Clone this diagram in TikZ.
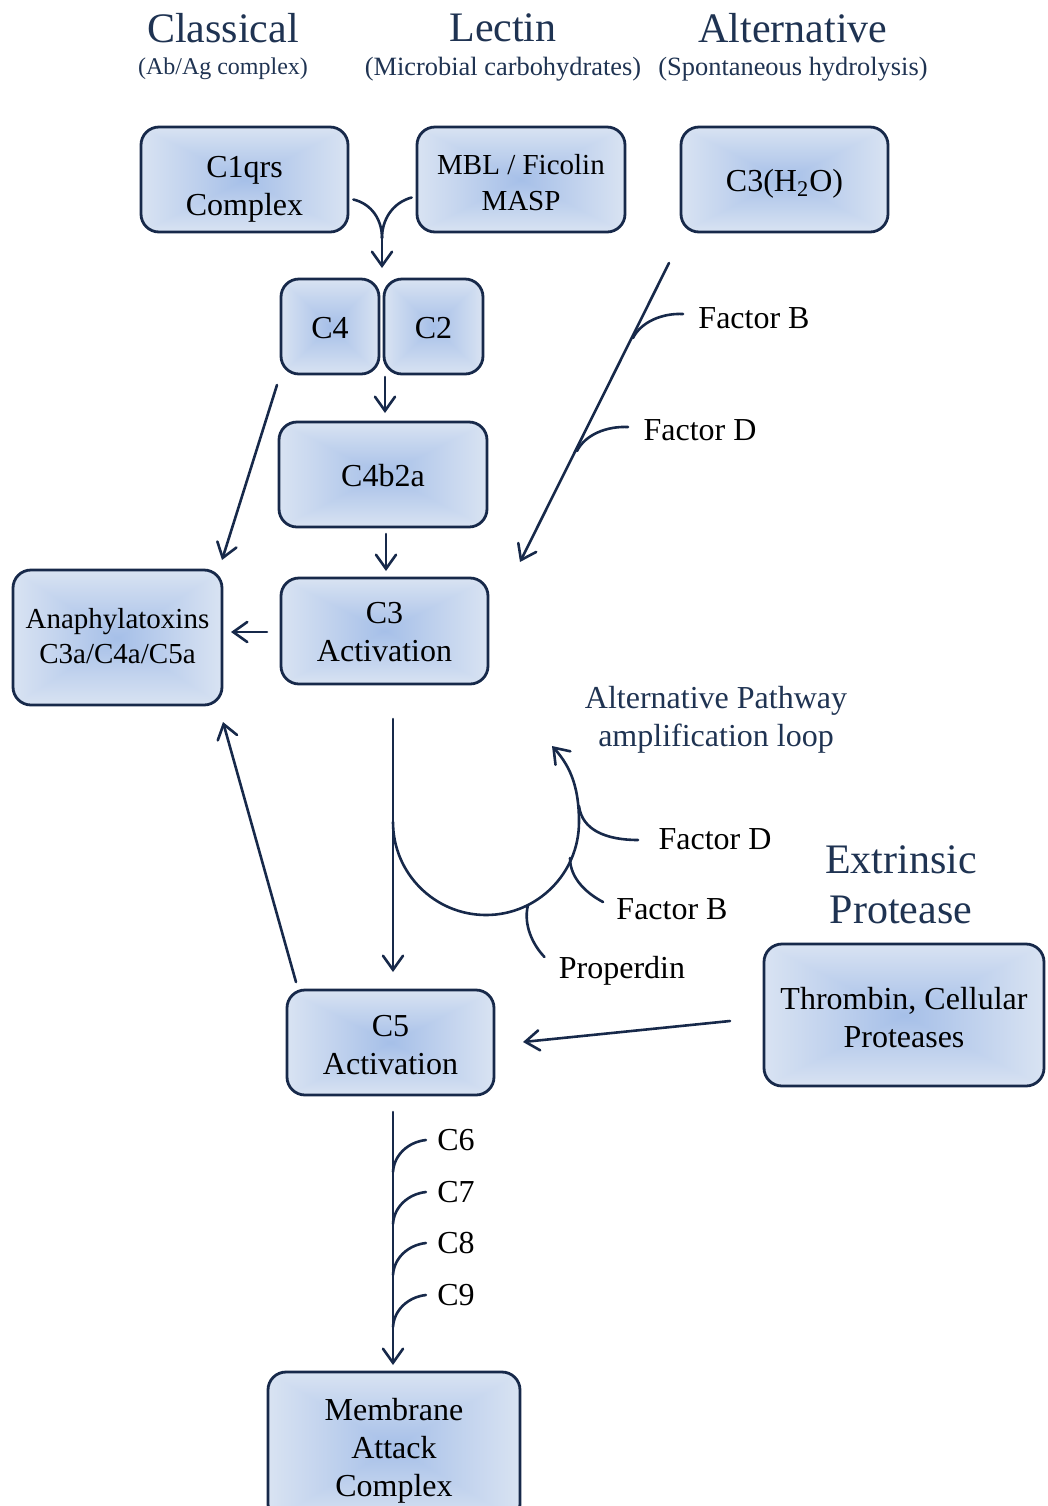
\documentclass[tikz,border=0pt]{standalone}
\usepackage{fontspec}
\setmainfont{Liberation Serif}
\usetikzlibrary{arrows.meta,calc}
\definecolor{linec}{HTML}{17294A}
\definecolor{headc}{HTML}{1F3352}
\pgfdeclarefunctionalshading{boxfill}{\pgfpoint{-50bp}{-50bp}}{\pgfpoint{50bp}{50bp}}{}{abs exch abs 2 copy lt {exch} if pop 25 div dup 1 gt {pop 1} if dup 0.20 mul 0.65 add exch dup 0.14 mul 0.75 add exch 0.04 mul 0.91 add}
\newcommand{\bt}[2]{\raisebox{-#1}[\height][\depth]{\begin{tabular}{@{}c@{}}#2\end{tabular}}}
\newcommand{\bl}[2]{\raisebox{-#1}[\height][\depth]{#2}}
\tikzset{
  box/.style={draw=linec, line width=1.4pt, rounded corners=9pt, shading=boxfill, align=center,
    font=\fontsize{16}{19}\selectfont, inner sep=0pt},
  head/.style={text=headc, font=\fontsize{21}{25}\selectfont, inner sep=0pt},
  sub/.style={text=headc, font=\fontsize{13.2}{16}\selectfont, inner sep=0pt},
  lab/.style={font=\fontsize{16}{19}\selectfont, inner sep=0pt},
  ln/.style={draw=linec, line width=1.3pt, line cap=round},
  arr/.style={ln, -{Straight Barb[length=7pt,width=10pt,line cap=round]}},
}
\begin{document}
\begin{tikzpicture}[x=0.5pt,y=-0.5pt]
\useasboundingbox (0,0) rectangle (1048,1506);
% headers
\node[head] (hcl) at (223,28) {Classical};
\node[sub, font=\fontsize{12}{14}\selectfont] (scl) at (223,69) {(Ab/Ag complex)};
\node[head] (hle) at (503,28) {Lectin};
\node[sub] (sle) at (503,69) {(Microbial carbohydrates)};
\node[head] (hal) at (793,28) {Alternative};
\node[sub] (sal) at (793,69) {(Spontaneous hydrolysis)};
% boxes
\node[box, minimum width=103.5pt, minimum height=52.5pt] (c1) at (244.5,179.5) {\bt{4.75pt}{C1qrs\\Complex}};
\node[box, font=\fontsize{14.5}{18}\selectfont, minimum width=104pt, minimum height=52.5pt] (mbl) at (521,179.5) {\bt{2.85pt}{MBL / Ficolin\\MASP}};
\node[box, minimum width=103.5pt, minimum height=52.5pt] (c3h) at (784.5,179.5) {\bl{2pt}{C3(H\textsubscript{2}O)}};
\node[box, minimum width=49pt, minimum height=47.5pt] (c4) at (330,326.5) {\bl{1pt}{C4}};
\node[box, minimum width=49.5pt, minimum height=47.5pt] (c2) at (433.5,326.5) {\bl{1pt}{C2}};
\node[box, minimum width=104pt, minimum height=52.5pt] (c4b2a) at (383,474.5) {\bl{0.5pt}{C4b2a}};
\node[box, minimum width=103.5pt, minimum height=53pt] (c3a) at (384.5,631) {\bt{2.1pt}{C3\\Activation}};
\node[box, font=\fontsize{14.5}{17.5}\selectfont, minimum width=104.5pt, minimum height=67.5pt] (ana) at (117.5,637.5) {\bt{0.9pt}{Anaphylatoxins\\C3a/C4a/C5a}};
\node[box, minimum width=103.5pt, minimum height=52.5pt] (c5) at (390.5,1042.5) {\bt{2.6pt}{C5\\Activation}};
\node[box, minimum width=140pt, minimum height=71pt] (thr) at (904,1015) {\bt{3pt}{Thrombin, Cellular\\Proteases}};
\node[box, minimum width=126pt, minimum height=75pt] (mac) at (394,1447) {\bt{1.75pt}{Membrane\\Attack\\Complex}};
% free labels
\node[text=headc, font=\fontsize{16}{19}\selectfont, align=center, inner sep=0pt] (apl) at (716,720) {Alternative Pathway\\amplification loop};
\node[text=headc, font=\fontsize{21}{25}\selectfont, align=center, inner sep=0pt] (ext) at (901,885) {Extrinsic\\Protease};
\node[lab] (fb1) at (754,318) {Factor B};
\node[lab] (fd1) at (700,430) {Factor D};
\node[lab] (fd2) at (715,839) {Factor D};
\node[lab] (fb2) at (672,909) {Factor B};
\node[lab] (prop) at (622,971) {Properdin};
\node[lab] (l6) at (456,1140) {C6};
\node[lab] (l7) at (456,1192) {C7};
\node[lab] (l8) at (456,1243) {C8};
\node[lab] (l9) at (456,1295) {C9};
% coordinates
\coordinate (m1) at ($(c1.east)+(4,20)$);
\coordinate (m2) at ($(mbl.west)+(-4,18)$);
\coordinate (mj) at (382,238);
\coordinate (mt) at (382,268);
\coordinate (a1s) at (385,377);
\coordinate (a1e) at (385,413);
\coordinate (a2s) at (386,534);
\coordinate (a2e) at (386,571);
\coordinate (a3s) at (267,632);
\coordinate (a3e) at (231,632);
\coordinate (a4s) at (277,385);
\coordinate (a4e) at (222,560);
\coordinate (alts) at (669,263);
\coordinate (alte) at (520,562);
\coordinate (jb1) at (633,338);
\coordinate (jd1) at (577,451);
\coordinate (vs) at (393,719);
\coordinate (ve) at (393,972);
\coordinate (lps) at (393,822);
\coordinate (lpt) at (552,746);
\coordinate (c5as) at (296,982);
\coordinate (c5ae) at (223,722);
\coordinate (ths) at (730,1021);
\coordinate (the) at (523,1042);
\coordinate (ms) at (393,1112);
\coordinate (me) at (393,1365);
% merge arrow
\draw[ln] (m1) .. controls (372,204) and (382,220) .. (mj);
\draw[ln] (m2) .. controls (392,203) and (382,220) .. (mj);
\draw[arr] (mj) -- (mt);
% straight arrows
\draw[arr] (a1s) -- (a1e);
\draw[arr] (a2s) -- (a2e);
\draw[arr] (a3s) -- (a3e);
\draw[arr] (a4s) -- (a4e);
% alternative pathway
\draw[arr] (alts) -- (alte);
\draw[ln] ($(fb1.west)+(-15,-4)$) .. controls (662,313) and (641,322) .. (jb1);
\draw[ln] ($(fd1.west)+(-15,-3)$) .. controls (606,426) and (585,435) .. (jd1);
% main vertical and loop
\draw[arr] (vs) -- (ve);
\draw[arr] (lps) arc[start angle=180, end angle=360, radius=46.5pt] .. controls (579,790) and (572,768) .. (lpt);
\draw[ln] ($(fd2.west)+(-20,1)$) .. controls (606,840) and (582,830) .. (579,806);
\draw[ln] ($(fb2.west)+(-13,-7)$) .. controls (586,893) and (570,878) .. (570,858);
\draw[ln] ($(prop.west)+(-14,-14)$) .. controls (533,945) and (523,925) .. (528,905);
% C5 related
\draw[arr] (c5as) -- (c5ae);
\draw[arr] (ths) -- (the);
\draw[arr] (ms) -- (me);
\foreach \n/\y in {l6/1140,l7/1192,l8/1243,l9/1295}{
  \draw[ln] ($(\n.west)+(-11,0)$) .. controls (408,\y+2) and (394,\y+15) .. (393,\y+32);
}
\end{tikzpicture}
\end{document}
